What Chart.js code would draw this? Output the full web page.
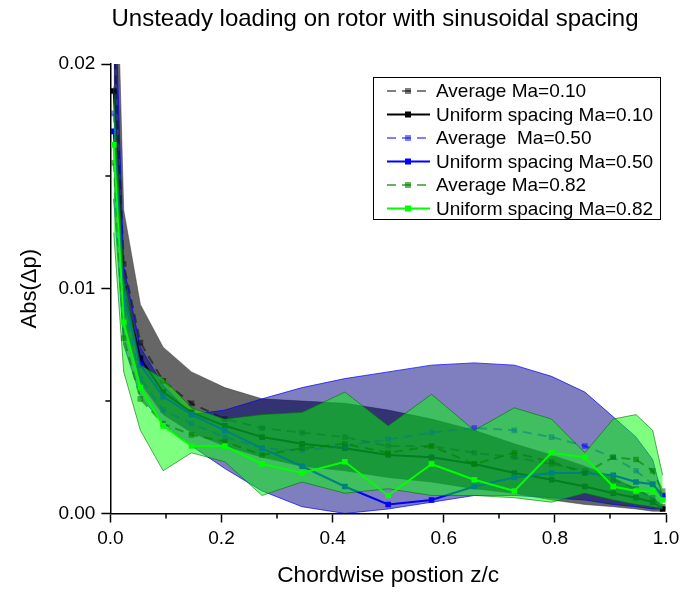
<!DOCTYPE html>
<html>
<head>
<meta charset="utf-8">
<title>Unsteady loading on rotor</title>
<script src="https://cdn.jsdelivr.net/npm/chart.js@4.4.0/dist/chart.umd.min.js"></script>
<style>
  html, body { margin: 0; padding: 0; background: #fff; }
  #wrap { width: 686px; height: 592px; }
</style>
</head>
<body>
<div id="wrap"><canvas id="myChart" width="686" height="592"></canvas></div>
<script>
// chordwise stations z/c (sinusoidal spacing)
const zPos = [0.006, 0.024, 0.054, 0.095, 0.146, 0.206, 0.273, 0.345, 0.422, 0.500,
              0.578, 0.655, 0.727, 0.794, 0.854, 0.905, 0.946, 0.976, 0.994];

// Ma = 0.10
const avg010    = [0.0215, 0.0111, 0.0076, 0.0059, 0.0049, 0.0042, 0.0038, 0.0036, 0.0034, 0.0030,
                   0.0030, 0.0027, 0.0025, 0.0022, 0.0019, 0.0015, 0.0011, 0.0007, 0.0003];
const unif010   = [0.0188, 0.0100, 0.0069, 0.0054, 0.0045, 0.0039, 0.0034, 0.0031, 0.0029, 0.0026,
                   0.0025, 0.0022, 0.0018, 0.0015, 0.0012, 0.0009, 0.0007, 0.0005, 0.0002];
const band010Hi = [0.0300, 0.0135, 0.0093, 0.0074, 0.0063, 0.0056, 0.0051, 0.0050, 0.0049, 0.0046,
                   0.0042, 0.0037, 0.0031, 0.0026, 0.0021, 0.0016, 0.0011, 0.0007, 0.0003];
const band010Lo = [0.0160, 0.0085, 0.0058, 0.0044, 0.0036, 0.0030, 0.0025, 0.0021, 0.0019, 0.0016,
                   0.0014, 0.0011, 0.0009, 0.0006, 0.0004, 0.0003, 0.0002, 0.0001, 0.0001];

// Ma = 0.50
const avg050    = [0.0178, 0.0093, 0.0060, 0.0046, 0.0040, 0.0034, 0.0029, 0.0028, 0.0030, 0.0033,
                   0.0036, 0.0038, 0.0037, 0.0034, 0.0030, 0.0025, 0.0019, 0.0013, 0.0007];
const unif050   = [0.0170, 0.0097, 0.0066, 0.0052, 0.0044, 0.0037, 0.0029, 0.0021, 0.0012, 0.0004,
                   0.0006, 0.0012, 0.0016, 0.0018, 0.0018, 0.0017, 0.0014, 0.0013, 0.0008];
const band050Hi = [0.0250, 0.0110, 0.0074, 0.0057, 0.0044, 0.0046, 0.0051, 0.0056, 0.0060, 0.0063,
                   0.0066, 0.0067, 0.0066, 0.0061, 0.0054, 0.0043, 0.0034, 0.0024, 0.0007];
const band050Lo = [0.0140, 0.0075, 0.0052, 0.0040, 0.0030, 0.0020, 0.0010, 0.0003, 0.0000, 0.0002,
                   0.0005, 0.0008, 0.0008, 0.0007, 0.0006, 0.0004, 0.0003, 0.0002, 0.0002];

// Ma = 0.82
const avg082    = [0.0156, 0.0078, 0.0051, 0.0040, 0.0035, 0.0032, 0.0026, 0.0029, 0.0031, 0.0027,
                   0.0030, 0.0022, 0.0027, 0.0023, 0.0018, 0.0025, 0.0024, 0.0019, 0.0010];
const unif082   = [0.0164, 0.0085, 0.0056, 0.0039, 0.0030, 0.0030, 0.0022, 0.0018, 0.0023, 0.0008,
                   0.0022, 0.0015, 0.0010, 0.0027, 0.0025, 0.0012, 0.0010, 0.0010, 0.0006];
const band082Hi = [0.0190, 0.0105, 0.0066, 0.0060, 0.0047, 0.0042, 0.0044, 0.0045, 0.0054, 0.0039,
                   0.0053, 0.0037, 0.0047, 0.0042, 0.0027, 0.0042, 0.0044, 0.0037, 0.0017];
const band082Lo = [0.0125, 0.0063, 0.0037, 0.0019, 0.0027, 0.0023, 0.0008, 0.0014, 0.0009, 0.0011,
                   0.0008, 0.0008, 0.0007, 0.0005, 0.0009, 0.0006, 0.0004, 0.0003, 0.0002];

const xTicks = [0, 0.2, 0.4, 0.6, 0.8, 1.0];
const xMinor = [0.1, 0.3, 0.5, 0.7, 0.9];
const yTicks = [0, 0.01, 0.02];
const yMinor = [0.005, 0.015];

const FONT = '"Liberation Sans", Arial, sans-serif';

function pts(vals) {
    return vals.map((v, i) => ({ x: zPos[i], y: v }));
}

// filled min/max envelope; the upper edge fills down to the next dataset
function band(vals, edge, fillColor, isUpper) {
    return {
        data: pts(vals),
        borderColor: edge,
        borderWidth: 1,
        backgroundColor: fillColor,
        pointRadius: 0,
        fill: isUpper ? '+1' : false
    };
}

function series(label, vals, color, dashed) {
    return {
        label: label,
        showInLegend: true,
        data: pts(vals),
        borderColor: color,
        borderWidth: 2,
        borderDash: dashed ? [9, 6] : [],
        pointStyle: 'rect',
        pointRadius: 4,
        pointBorderWidth: 0,
        pointBackgroundColor: color,
        pointBorderColor: color,
        fill: false
    };
}

const datasets = [
    band(band010Hi, 'rgba(60,60,60,0.5)', 'rgba(0,0,0,0.6)', true),
    band(band010Lo, 'rgba(60,60,60,0.5)', 'rgba(0,0,0,0.6)', false),
    series('Average Ma=0.10', avg010, 'rgba(0,0,0,0.5)', true),
    series('Uniform spacing Ma=0.10', unif010, '#000000', false),
    band(band050Hi, 'rgba(0,0,255,0.7)', 'rgba(0,0,128,0.5)', true),
    band(band050Lo, 'rgba(0,0,255,0.7)', 'rgba(0,0,128,0.5)', false),
    series('Average  Ma=0.50', avg050, 'rgba(0,0,255,0.5)', true),
    series('Uniform spacing Ma=0.50', unif050, '#0000ff', false),
    band(band082Hi, 'rgba(0,110,0,0.6)', 'rgba(0,255,0,0.5)', true),
    band(band082Lo, 'rgba(0,110,0,0.6)', 'rgba(0,255,0,0.5)', false),
    series('Average Ma=0.82', avg082, 'rgba(0,128,0,0.6)', true),
    series('Uniform spacing Ma=0.82', unif082, '#00ff00', false)
];
// first dataset at the bottom, last on top
datasets.forEach((d, i) => { d.order = datasets.length - i; });

// minor ticks, title and the boxed legend
const extras = {
    id: 'extras',
    afterDraw(chart) {
        const ctx = chart.ctx;
        const area = chart.chartArea;
        const xs = chart.scales.x, ys = chart.scales.y;
        ctx.save();

        ctx.strokeStyle = '#000';
        ctx.lineWidth = 1.5;
        xMinor.forEach(v => {
            const px = Math.round(xs.getPixelForValue(v));
            ctx.beginPath();
            ctx.moveTo(px, area.bottom);
            ctx.lineTo(px, area.bottom + 5);
            ctx.stroke();
        });
        yMinor.forEach(v => {
            const py = Math.round(ys.getPixelForValue(v));
            ctx.beginPath();
            ctx.moveTo(area.left, py);
            ctx.lineTo(area.left - 5, py);
            ctx.stroke();
        });

        // title
        ctx.fillStyle = '#000';
        ctx.font = '24px ' + FONT;
        ctx.textAlign = 'center';
        ctx.textBaseline = 'middle';
        ctx.fillText('Unsteady loading on rotor with sinusoidal spacing', 375, 19);

        // legend
        const items = chart.data.datasets.filter(d => d.showInLegend);
        const boxW = 287, boxH = 142;
        const x0 = area.right - 6 - boxW, y0 = area.top + 13;
        ctx.fillStyle = '#fff';
        ctx.fillRect(x0, y0, boxW, boxH);
        ctx.strokeStyle = '#000';
        ctx.lineWidth = 1;
        ctx.strokeRect(x0 + 0.5, y0 + 0.5, boxW, boxH);
        ctx.font = '19px ' + FONT;
        ctx.textAlign = 'left';
        items.forEach((d, i) => {
            const cy = y0 + 14 + i * 23.5;
            ctx.strokeStyle = d.borderColor;
            ctx.lineWidth = 2;
            ctx.setLineDash(d.borderDash);
            ctx.beginPath();
            ctx.moveTo(x0 + 14, cy);
            ctx.lineTo(x0 + 57, cy);
            ctx.stroke();
            ctx.setLineDash([]);
            ctx.fillStyle = d.pointBackgroundColor;
            ctx.fillRect(x0 + 32, cy - 3, 6, 6);
            ctx.fillStyle = '#000';
            ctx.fillText(d.label, x0 + 63, cy + 1);
        });
        ctx.restore();
    }
};

const ctx = document.getElementById('myChart').getContext('2d');
window.myChart = new Chart(ctx, {
    type: 'line',
    data: { datasets: datasets },
    options: {
        responsive: false,
        animation: false,
        devicePixelRatio: 1,
        layout: { padding: { top: 64, left: 8, right: 20, bottom: 0 } },
        plugins: {
            legend: { display: false },
            tooltip: { enabled: false },
            title: { display: false }
        },
        scales: {
            x: {
                type: 'linear',
                min: 0,
                max: 1,
                afterBuildTicks: s => { s.ticks = xTicks.map(v => ({ value: v })); },
                ticks: {
                    callback: v => v.toFixed(1),
                    color: '#000',
                    font: { size: 19, family: FONT },
                    padding: 5,
                    maxRotation: 0
                },
                grid: { drawOnChartArea: false, tickLength: 9, tickColor: '#000', tickWidth: 1.5 },
                border: { color: '#000', width: 1.5 },
                title: {
                    display: true,
                    text: 'Chordwise postion z/c',
                    color: '#000',
                    font: { size: 22.7, family: FONT },
                    padding: { top: 6.5, bottom: 3 }
                }
            },
            y: {
                type: 'linear',
                min: 0,
                max: 0.02,
                afterBuildTicks: s => { s.ticks = yTicks.map(v => ({ value: v })); },
                ticks: {
                    callback: v => v.toFixed(2),
                    color: '#000',
                    font: { size: 19, family: FONT },
                    padding: 6
                },
                grid: { drawOnChartArea: false, tickLength: 9, tickColor: '#000', tickWidth: 1.5 },
                border: { color: '#000', width: 1.5 },
                title: {
                    display: true,
                    text: 'Abs(\u0394p)',
                    color: '#000',
                    font: { size: 22, family: FONT },
                    padding: { top: 9, bottom: 9 }
                }
            }
        }
    },
    plugins: [extras]
});
</script>
</body>
</html>
